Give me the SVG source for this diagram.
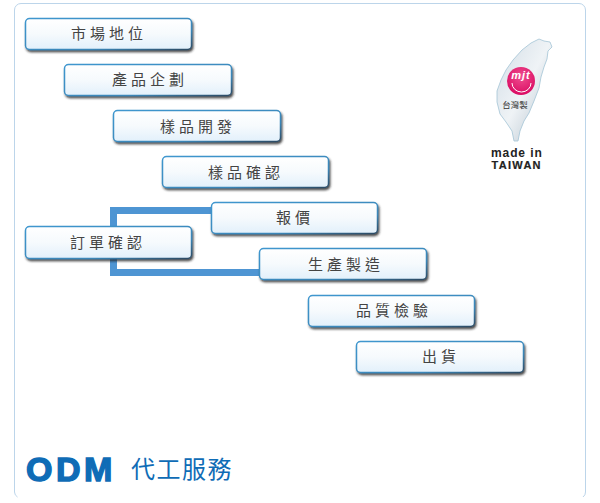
<svg xmlns="http://www.w3.org/2000/svg" width="600" height="503" viewBox="0 0 600 503">
<style>
.cjk{font-family:"Noto Sans CJK TC","Noto Sans CJK SC",sans-serif}
.box{fill:url(#g);stroke:url(#e);stroke-width:1.500;filter:url(#s)}
.lab{font-size:15px;fill:#444;text-anchor:middle;letter-spacing:4px}
.conn{fill:none;stroke:#4e95d3;stroke-width:7}
.lat{font-family:"Liberation Sans",sans-serif;font-weight:bold}
</style>
<defs>
<linearGradient id="g" x1="0" y1="0" x2="0" y2="1"><stop offset="0" stop-color="#fff"/><stop offset="0.5" stop-color="#f6fafd"/><stop offset="1" stop-color="#e2f0fb"/></linearGradient>
<linearGradient id="e" x1="0" y1="0" x2="1" y2="1"><stop offset="0" stop-color="#3f97cf"/><stop offset="0.7" stop-color="#3a86b8"/><stop offset="1" stop-color="#2c4a63"/></linearGradient>
<linearGradient id="tw" x1="0" y1="0" x2="1" y2="1"><stop offset="0" stop-color="#d2dde6"/><stop offset="0.5" stop-color="#eff3f6"/><stop offset="1" stop-color="#aebcc8"/></linearGradient>
<radialGradient id="pk" cx="0.5" cy="0.35" r="0.7"><stop offset="0" stop-color="#ef4f90"/><stop offset="1" stop-color="#d9065f"/></radialGradient>
<filter id="s" x="-5%" y="-15%" width="110%" height="140%"><feDropShadow dx="1.200" dy="2" stdDeviation="1" flood-color="#222" flood-opacity="0.8"/></filter>
</defs>
<rect width="600" height="503" fill="#fff"/>
<path id="frame" d="M14.500 492V10a6.500 6.500 0 0 1 6.500-6.500H579a6.500 6.500 0 0 1 6.500 6.500V492a6 6 0 0 1-2.500 5M14.500 492a6 6 0 0 0 3 5" fill="none" stroke="#bcd5ea" stroke-width="1"/>
<g id="connectors">
<path class="conn" d="M212 210.500H113.500V272.500H260"/>
</g>
<g id="n1"><rect class="box" x="25.500" y="18.500" width="166" height="31" rx="4"/><text class="cjk lab" x="109" y="39">市場地位</text></g>
<g id="n2"><rect class="box" x="64.500" y="64.500" width="167" height="31" rx="4"/><text class="cjk lab" x="150" y="85">產品企劃</text></g>
<g id="n3"><rect class="box" x="113.500" y="110.500" width="167" height="31" rx="4"/><text class="cjk lab" x="198" y="132">樣品開發</text></g>
<g id="n4"><rect class="box" x="162.500" y="156.500" width="166" height="31" rx="4"/><text class="cjk lab" x="246" y="178">樣品確認</text></g>
<g id="n5"><rect class="box" x="211.500" y="202.500" width="166" height="31" rx="4"/><text class="cjk lab" x="295" y="223">報價</text></g>
<g id="n6"><rect class="box" x="25.500" y="226.500" width="166" height="32" rx="4"/><text class="cjk lab" x="108" y="248">訂單確認</text></g>
<g id="n7"><rect class="box" x="259.500" y="248.500" width="167" height="31" rx="4"/><text class="cjk lab" x="346" y="270">生產製造</text></g>
<g id="n8"><rect class="box" x="308.500" y="295.500" width="166" height="31" rx="4"/><text class="cjk lab" x="394" y="316">品質檢驗</text></g>
<g id="n9"><rect class="box" x="356.500" y="341.500" width="167" height="31" rx="4"/><text class="cjk lab" x="441" y="362">出貨</text></g>
<g id="taiwan">
<path d="M539 39L544 41L550 42L552 47L548 51L547 59L544 67L541 77L539 88L534 101L529 113L524 121L520 131L518 141L514 141L512 131L506 122L500 114L497 102L497 91L501 80L506 70L513 60L522 50L531 43Z" fill="url(#tw)" stroke="#a3c4d6" stroke-width="0.8"/>
<circle cx="521" cy="81" r="14" fill="url(#pk)"/>
<text x="521" y="79" font-family="Liberation Sans,sans-serif" font-size="11" font-style="italic" font-weight="bold" fill="#fff" text-anchor="middle" letter-spacing="1">mjt</text>
<path d="M512 83a9.500 9 0 0 0 19 0" fill="none" stroke="#fff" stroke-width="1"/>
<text class="cjk" x="515" y="108" font-size="8.500" fill="#333" text-anchor="middle">台灣製</text>
<text class="lat" x="491" y="157" font-size="12" fill="#222" letter-spacing="0.900">made in</text>
<text class="lat" x="491.500" y="168.500" font-size="11" fill="#222" letter-spacing="1.300" stroke="#222" stroke-width="0.200">TAIWAN</text>
</g>
<g id="title">
<text class="lat" x="26" y="480.500" font-size="34" fill="#0f6cb6" stroke="#0f6cb6" stroke-width="1.400" letter-spacing="3.500">ODM</text>
<text class="cjk" x="131" y="478" font-size="24" fill="#0f6cb6" letter-spacing="1.500">代工服務</text>
</g>
</svg>
